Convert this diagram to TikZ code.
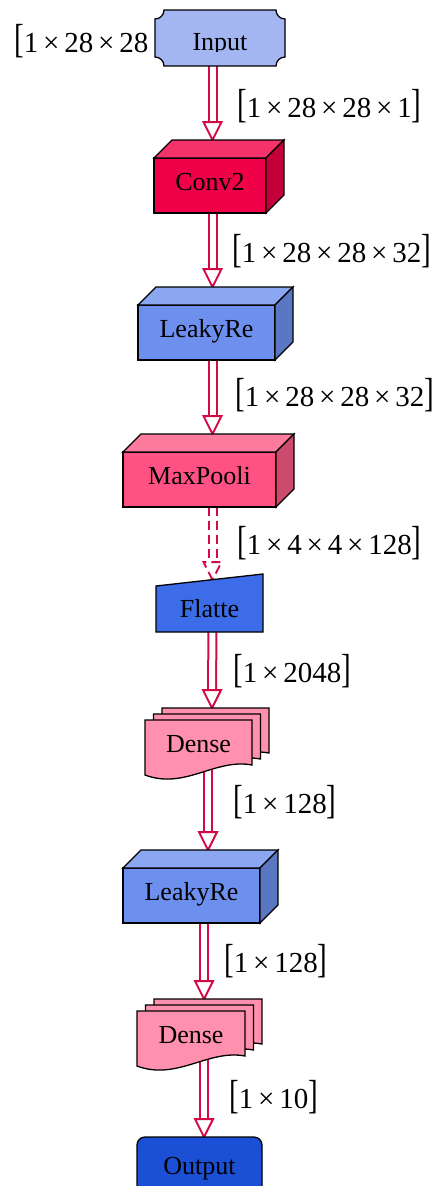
\documentclass[tikz,border=0pt]{standalone}
\usepackage{fontspec}
\setmainfont{Liberation Serif}
\usepackage{graphicx}
\usetikzlibrary{calc}
\pgfdeclarelayer{bg}
\pgfdeclarelayer{mid}
\pgfsetlayers{bg,mid,main}
\definecolor{arrowc}{HTML}{D40A46}
\definecolor{inputc}{HTML}{A3B6F2}
\definecolor{convF}{HTML}{EF0047}
\definecolor{convT}{HTML}{F3336A}
\definecolor{convS}{HTML}{C4003A}
\definecolor{leakF}{HTML}{6D8FEE}
\definecolor{leakT}{HTML}{8BA7F2}
\definecolor{leakS}{HTML}{5A77C4}
\definecolor{poolF}{HTML}{FF5283}
\definecolor{poolT}{HTML}{FF7B9D}
\definecolor{poolS}{HTML}{CC4A6C}
\definecolor{flatc}{HTML}{3D6CE8}
\definecolor{densec}{HTML}{FF90AE}
\definecolor{outc}{HTML}{1A4FD6}
\newcommand\nodefont{\fontsize{26}{28}\selectfont}
\newcommand\labfont{\fontsize{29}{32}\selectfont}
\newcommand\shp[1]{\scalebox{1}[1.4]{[}#1\scalebox{1}[1.4]{]}}
\newcommand\cubefaces[3]{%
  \draw[face, fill=#2] (#1.north west) -- ++(18,-18) -- ($(#1.north east)+(18,-18)$) -- (#1.north east) -- cycle;
  \draw[face, fill=#3] (#1.north east) -- ++(18,-18) -- ($(#1.south east)+(18,-18)$) -- (#1.south east) -- cycle;}
\newcommand\docat[3]{%
  \draw[face, fill=densec] ($(#1.north west)+(#2,#3)$) -- ($(#1.north east)+(#2,#3)$) -- ($(#1.south east)+(#2,#3-10)$) .. controls ($(#1.south east)+(#2-37,#3-17)$) and ($(#1.south west)+(#2+40,#3+15)$) .. ($(#1.south west)+(#2,#3)$) -- cycle;}
\newcommand\dblarrow[3][]{%
  \draw[shaft,#1] (#2) -- ($(#3)+(0,-17)$);
  \draw[head,#1] (#3) -- ++(-9,-18) -- ++(18,0) -- cycle;}
\begin{document}
\begin{tikzpicture}[x=1pt,y=-1pt,
  lay/.style={draw=black,line width=1.3pt,inner sep=0pt,outer sep=0pt,font=\nodefont,text height=14.5pt,text depth=5.5pt},
  plain/.style={inner sep=0pt,outer sep=0pt,font=\nodefont,text height=14.5pt,text depth=5.5pt},
  face/.style={draw=black,line width=1.3pt},
  shaft/.style={draw=arrowc,line width=2pt,double=white,double distance=6pt},
  head/.style={draw=arrowc,fill=white,line width=2pt},
  lab/.style={anchor=base west,inner sep=0pt,font=\labfont}]
\useasboundingbox (0,0) rectangle (433,1186);

% ---- nodes ----
\begin{scope}
  \clip (140,0) rectangle (300,51);
  \node[plain, minimum width=130pt, minimum height=56pt, text height=24pt, text depth=0pt] (input) at (220,38) {Input};
\end{scope}
\node[lay, fill=convF, minimum width=112pt, minimum height=55pt] (conv) at (210,185.5) {Conv2};
\cubefaces{conv}{convT}{convS}
\node[lay, fill=leakF, minimum width=137pt, minimum height=55pt] (leaky1) at (206.5,332.5) {LeakyRe};
\cubefaces{leaky1}{leakT}{leakS}
\node[lay, fill=poolF, minimum width=153pt, minimum height=55pt] (pool) at (199.5,479.5) {MaxPooli};
\cubefaces{pool}{poolT}{poolS}
\node[plain, minimum width=107pt, minimum height=46pt, text height=18pt, text depth=2pt] (flat) at (209.5,609) {Flatte};
\node[plain, minimum width=107pt, minimum height=55pt] (d1) at (198.5,747.5) {Dense};
\node[lay, fill=leakF, minimum width=137pt, minimum height=55pt] (leaky2) at (191.5,895.5) {LeakyRe};
\cubefaces{leaky2}{leakT}{leakS}
\node[plain, minimum width=108pt, minimum height=55pt] (d2) at (191,1038.5) {Dense};
\node[lay, fill=outc, rounded corners=8pt, minimum width=125pt, minimum height=66pt] (out) at (199.5,1170) {Output};

% ---- shapes under the texts ----
\begin{pgfonlayer}{mid}
  \draw[face, fill=inputc]
    ($(input.north west)+(9,0)$) -- ($(input.north east)+(-9,0)$)
    .. controls ($(input.north east)+(-9,5)$) and ($(input.north east)+(-5,9)$) .. ($(input.north east)+(0,9)$)
    -- ($(input.south east)+(0,-9)$)
    .. controls ($(input.south east)+(-5,-9)$) and ($(input.south east)+(-9,-5)$) .. ($(input.south east)+(-9,0)$)
    -- ($(input.south west)+(9,0)$)
    .. controls ($(input.south west)+(9,-5)$) and ($(input.south west)+(5,-9)$) .. ($(input.south west)+(0,-9)$)
    -- ($(input.north west)+(0,9)$)
    .. controls ($(input.north west)+(5,9)$) and ($(input.north west)+(9,5)$) .. ($(input.north west)+(9,0)$) -- cycle;
  \draw[face, fill=flatc] (flat.south west) -- (flat.south east) -- ($(flat.north east)+(0,-12)$) -- (flat.north west) -- cycle;
  \docat{d1}{17}{-12}
  \docat{d1}{8.5}{-6}
  \docat{d1}{0}{0}
  \docat{d2}{17}{-12}
  \docat{d2}{8.5}{-6}
  \docat{d2}{0}{0}
\end{pgfonlayer}

% ---- connectors and shape labels ----
\begin{pgfonlayer}{bg}
  \node[lab] (lin) at (14,52) {\shp{1\,×\,28\,×\,28\,×\,1}};
  \coordinate (s1) at ($(input.south)+(-7.5,-10)$);
  \coordinate (t1) at ($(conv.north)+(2.5,-18)$);
  \coordinate (s2) at ($(conv.south)+(2.5,-10)$);
  \coordinate (t2) at ($(leaky1.north)+(6,-18)$);
  \coordinate (s3) at ($(leaky1.south)+(6,-10)$);
  \coordinate (t3) at ($(pool.north)+(13,-18)$);
  \coordinate (s4) at ($(pool.south)+(13,0)$);
  \coordinate (t4) at ($(flat.north)+(3,-6)$);
  \coordinate (s5) at ($(flat.south)+(3,-4)$);
  \coordinate (t5) at ($(d1.north)+(13.5,-12)$);
  \coordinate (s6) at ($(d1.south)+(9.5,-10)$);
  \coordinate (t6) at ($(leaky2.north)+(16.5,-18)$);
  \coordinate (s7) at ($(leaky2.south)+(12.5,-10)$);
  \coordinate (t7) at ($(d2.north)+(13,-12)$);
  \coordinate (s8) at ($(d2.south)+(13,-12)$);
  \coordinate (t8) at ($(out.north)+(4.5,0)$);
  \dblarrow{s1}{t1}
  \dblarrow{s2}{t2}
  \dblarrow{s3}{t3}
  \dblarrow[dash pattern=on 9pt off 5pt]{s4}{t4}
  \dblarrow{s5}{t5}
  \dblarrow{s6}{t6}
  \dblarrow{s7}{t7}
  \dblarrow{s8}{t8}
  \node[lab] (l1) at (237,117) {\shp{1\,×\,28\,×\,28\,×\,1}};
  \node[lab] (l2) at (232,262) {\shp{1\,×\,28\,×\,28\,×\,32}};
  \node[lab] (l3) at (235,406) {\shp{1\,×\,28\,×\,28\,×\,32}};
  \node[lab] (l4) at (237,554) {\shp{1\,×\,4\,×\,4\,×\,128}};
  \node[lab] (l5) at (233,682) {\shp{1\,×\,2048}};
  \node[lab] (l6) at (233,813) {\shp{1\,×\,128}};
  \node[lab] (l7) at (224,972) {\shp{1\,×\,128}};
  \node[lab] (l8) at (229,1108) {\shp{1\,×\,10}};
\end{pgfonlayer}
\end{tikzpicture}
\end{document}
